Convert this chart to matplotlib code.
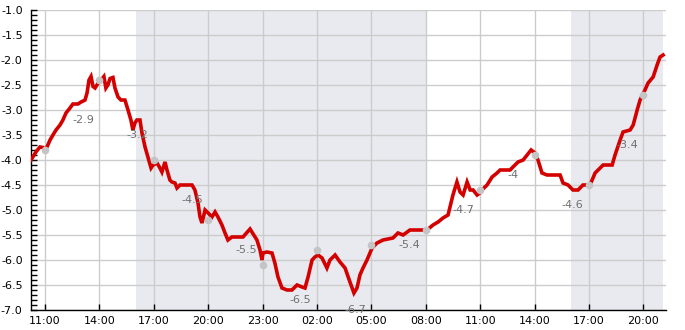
import numpy as np
import pandas as pd
import matplotlib
matplotlib.use("Agg")
import matplotlib.pyplot as plt
import matplotlib.dates as mdates
from matplotlib.ticker import MultipleLocator

# temperature trace, hours counted from midnight of the first day
hours = [10.23, 10.50, 10.72, 10.89, 11.00, 11.11, 11.28, 11.44, 11.61, 11.83,
         11.99, 12.16, 12.38, 12.54, 12.82, 12.99, 13.21, 13.32, 13.43, 13.54,
         13.65, 13.76, 13.92, 14.09, 14.25, 14.36, 14.47, 14.59, 14.75, 14.86,
         15.03, 15.19, 15.41, 15.58, 15.74, 15.85, 15.96, 16.07, 16.24, 16.35,
         16.52, 16.68, 16.85, 16.96, 17.18, 17.34, 17.45, 17.62, 17.73, 17.89,
         18.00, 18.17, 18.28, 18.45, 19.11, 19.27, 19.44, 19.55, 19.66, 19.83,
         20.00, 20.21, 20.38, 20.54, 20.76, 20.93, 21.09, 21.31, 21.92, 22.31,
         22.69, 22.86, 22.97, 23.02, 23.24, 23.52, 23.68, 23.85, 24.07, 24.35,
         24.62, 24.90, 25.18, 25.34, 25.51, 25.73, 25.89, 26.06, 26.28, 26.55,
         26.72, 27.00, 27.27, 27.55, 27.82, 28.04, 28.21, 28.37, 28.54, 28.76,
         29.04, 29.31, 29.64, 30.19, 30.47, 30.75, 31.13, 32.07, 32.40, 32.68,
         32.95, 33.23, 33.50, 33.72, 33.89, 34.06, 34.28, 34.45, 34.61, 34.83,
         34.99, 35.10, 35.38, 35.66, 35.93, 36.10, 36.65, 36.81, 37.09, 37.37,
         37.59, 37.81, 38.03, 38.19, 38.41, 38.69, 39.41, 39.57, 39.85, 40.12,
         40.40, 40.67, 41.06, 41.34, 41.61, 41.78, 42.28, 42.44, 42.72, 42.88,
         43.27, 43.44, 43.66, 43.82, 44.09, 44.26, 44.54, 44.76, 44.92, 45.09]
temps = [-4.0, -3.84, -3.74, -3.75, -3.8, -3.74, -3.6, -3.5, -3.4, -3.3,
         -3.2, -3.06, -2.96, -2.88, -2.88, -2.84, -2.8, -2.66, -2.4, -2.33,
         -2.53, -2.56, -2.47, -2.4, -2.33, -2.56, -2.5, -2.37, -2.35, -2.56,
         -2.74, -2.8, -2.8, -3.0, -3.2, -3.4, -3.26, -3.2, -3.2, -3.46,
         -3.74, -3.94, -4.16, -4.1, -4.06, -4.16, -4.24, -4.04, -4.2, -4.4,
         -4.44, -4.46, -4.56, -4.5, -4.5, -4.6, -4.86, -5.14, -5.26, -5.0,
         -5.06, -5.14, -5.04, -5.14, -5.3, -5.46, -5.6, -5.54, -5.54, -5.38,
         -5.6, -5.8, -6.0, -5.86, -5.84, -5.86, -6.06, -6.34, -6.56, -6.6,
         -6.6, -6.5, -6.54, -6.56, -6.34, -6.0, -5.94, -5.9, -5.96, -6.16,
         -6.0, -5.9, -6.04, -6.16, -6.44, -6.66, -6.56, -6.3, -6.16, -6.0,
         -5.76, -5.66, -5.6, -5.56, -5.46, -5.5, -5.4, -5.4, -5.3, -5.24,
         -5.16, -5.1, -4.7, -4.44, -4.64, -4.7, -4.44, -4.6, -4.6, -4.7,
         -4.66, -4.6, -4.5, -4.34, -4.26, -4.2, -4.2, -4.14, -4.04, -4.0,
         -3.9, -3.8, -3.86, -4.0, -4.26, -4.3, -4.3, -4.46, -4.5, -4.6,
         -4.6, -4.5, -4.5, -4.26, -4.16, -4.1, -4.1, -3.9, -3.6, -3.44,
         -3.4, -3.3, -3.0, -2.8, -2.6, -2.46, -2.34, -2.1, -1.94, -1.9]

# readings every 3 hours (grey dots)
dot_hours = [11, 14, 17, 20, 23, 26, 29, 32, 35, 38, 41, 44]
dot_temps = [-3.8, -2.4, -4.0, -5.2, -6.1, -5.8, -5.7, -5.4, -4.6, -3.9, -4.5, -2.7]

# mean per 3 hour block, labelled at the block middle
lab_hours = [12.5, 15.5, 18.5, 21.5, 24.5, 27.5, 30.5, 33.5, 36.5, 39.5, 42.5]
lab_temps = [-2.9, -3.2, -4.5, -5.5, -6.5, -6.7, -5.4, -4.7, -4.0, -4.6, -3.4]

# night periods
night = [(16, 32), (40, 45.09)]

day0 = pd.Timestamp("2024-01-10")

def to_time(h):
    return day0 + pd.to_timedelta(np.asarray(h, dtype=float), unit="h")

fig = plt.figure(figsize=(6.85, 3.3), dpi=100)
ax = fig.add_axes([31 / 685, 20 / 330, 635 / 685, 300 / 330])

for a, b in night:
    ax.axvspan(to_time(a), to_time(b), color="#e9eaf0", lw=0, zorder=0)

ax.plot(to_time(hours), temps, color="#d40000", lw=2.6, zorder=3,
        solid_joinstyle="miter")
ax.plot(to_time(dot_hours), dot_temps, "o", color="#c4c4c4", ms=5.5,
        mec="none", zorder=4)

for h, t in zip(lab_hours, lab_temps):
    ax.annotate(f"{t:g}", (to_time(h), t), xytext=(0, -15),
                textcoords="offset pixels", ha="left", va="center",
                color="#707070", fontsize=8, zorder=5)

ax.set_xlim(to_time(10.23), to_time(45.25))
ax.set_ylim(-7.0, -1.0)

ax.xaxis.set_major_locator(mdates.HourLocator(byhour=[2, 5, 8, 11, 14, 17, 20, 23]))
ax.xaxis.set_major_formatter(mdates.DateFormatter("%H:%M"))
ax.yaxis.set_major_locator(MultipleLocator(0.5))
ax.yaxis.set_minor_locator(MultipleLocator(0.1))
ax.yaxis.set_major_formatter(plt.FuncFormatter(lambda v, p: f"{v:.1f}"))

ax.grid(True, which="major", color="#cccccc", lw=1)
ax.set_axisbelow(True)
ax.tick_params(axis="both", which="both", direction="in", length=4,
               width=1, color="black", labelsize=8)
ax.tick_params(axis="x", pad=4)
ax.tick_params(axis="y", pad=6)
for side in ["top", "right"]:
    ax.spines[side].set_visible(False)
for side in ["left", "bottom"]:
    ax.spines[side].set_color("black")
    ax.spines[side].set_linewidth(1)

fig.savefig("out.png", dpi=100)
